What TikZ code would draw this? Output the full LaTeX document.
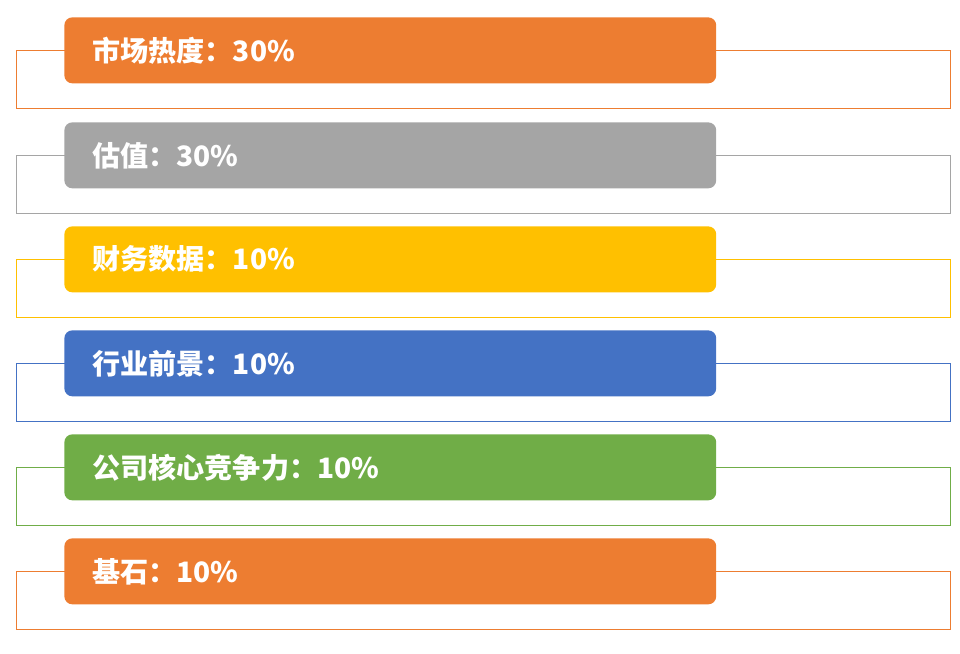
\documentclass[tikz,border=0pt]{standalone}
\usepackage{fontspec}
\setmainfont{Noto Sans CJK SC}
\usetikzlibrary{positioning}

\definecolor{heatorange}{HTML}{ED7D31}
\definecolor{valuegray}{HTML}{A5A5A5}
\definecolor{financegold}{HTML}{FFC000}
\definecolor{sectorblue}{HTML}{4472C4}
\definecolor{coregreen}{HTML}{70AD47}

\begin{document}
\begin{tikzpicture}[x=0.02cm, y=-0.02cm,
        bar/.style={rounded corners=0.16cm, minimum width=13.04cm, minimum height=1.32cm, inner sep=0pt, anchor=north west}, % filled title bar
        frame/.style={line width=0.5pt}, % thin outline behind each bar
        caption/.style={text=white, font=\fontsize{16}{19}\selectfont\bfseries, inner sep=0pt},
    ]
    \useasboundingbox (0,0) rectangle (960,653);

    \foreach \i/\t/\c/\txt in {1/17/heatorange/市场热度：30\%,
                                2/122/valuegray/估值：30\%,
                                3/226/financegold/财务数据：10\%,
                                4/330/sectorblue/行业前景：10\%,
                                5/434/coregreen/公司核心竞争力：10\%,
                                6/538/heatorange/基石：10\%} {
        \draw[frame, draw=\c] (16,\t+33) rectangle (950,\t+91);
        \node (bar\i) [bar, fill=\c] at (64,\t) {};
        \node (cap\i) [caption, right=0.56cm of bar\i.west] {\txt};
    }
\end{tikzpicture}
\end{document}
